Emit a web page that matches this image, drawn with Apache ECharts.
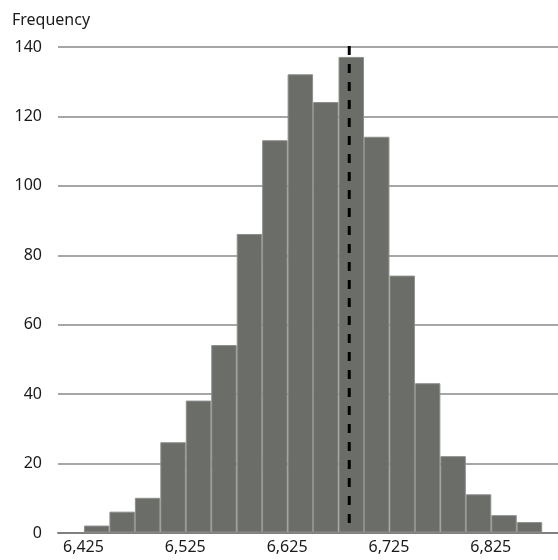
<!DOCTYPE html>
<html>
<head>
<meta charset="utf-8">
<script src="https://cdn.jsdelivr.net/npm/echarts@6/dist/echarts.min.js"></script>
<style>
html,body{margin:0;padding:0;background:#fff;}
#chart{width:558px;height:560px;}
</style>
</head>
<body>
<div id="chart"></div>
<script>
// Bin start values (bin width 25)
const binStarts = [6425,6450,6475,6500,6525,6550,6575,6600,6625,6650,6675,6700,6725,6750,6775,6800,6825,6850];
const binWidth = 25;
const frequencies = [2,6,10,26,38,54,86,113,132,124,137,114,74,43,22,11,5,3];
const xTickLabels = [6425,6525,6625,6725,6825];
const meanValue = [6686];
const yTicks = [0,20,40,60,80,100,120,140];

const barData = binStarts.map((s, i) => [s, s + binWidth, frequencies[i]]);

const chart = echarts.init(document.getElementById('chart'));
const fontFamily = '"Noto Sans", "Open Sans", sans-serif';
chart.setOption({
  animation: false,
  backgroundColor: '#ffffff',
  title: {
    text: 'Frequency',
    left: 12, top: 12, padding: 0,
    textStyle: {fontSize: 16, fontWeight: 'normal', color: '#1a1a1a', fontFamily: fontFamily}
  },
  grid: {left: 58, right: 0, top: 47, bottom: 27},
  xAxis: {
    type: 'value',
    min: 6400, max: 6891, interval: 25,
    axisLine: {show: true, lineStyle: {color: '#7f7f7f', width: 2}},
    axisTick: {show: false},
    splitLine: {show: false},
    axisLabel: {
      showMaxLabel: false, showMinLabel: true,
      fontSize: 16, color: '#1a1a1a', fontFamily: fontFamily, margin: 6,
      formatter: function (v) {
        return xTickLabels.indexOf(v) >= 0 ? v.toLocaleString('en-US') : '';
      }
    }
  },
  yAxis: {
    type: 'value',
    min: yTicks[0], max: yTicks[yTicks.length - 1], interval: 20,
    axisLine: {show: false},
    axisTick: {show: false},
    splitLine: {show: true, lineStyle: {color: '#a6a6a6', width: 2}},
    axisLabel: {fontSize: 16, color: '#1a1a1a', fontFamily: fontFamily, margin: 16}
  },
  series: [
    {
      type: 'custom',
      data: barData,
      encode: {x: [0, 1], y: 2},
      renderItem: function (params, api) {
        const p0 = api.coord([api.value(0), 0]);
        const p1 = api.coord([api.value(1), api.value(2)]);
        return {
          type: 'rect',
          shape: {x: p0[0] + 1, y: p1[1], width: p1[0] - p0[0] - 1, height: p0[1] - p1[1] - 1},
          style: {fill: '#6b6d69', stroke: '#8e8f8c', lineWidth: 1}
        };
      },
      z: 2
    },
    {
      type: 'line',
      data: [[meanValue[0], 140.3], [meanValue[0], 2.3]],
      symbol: 'none',
      lineStyle: {color: '#000000', width: 3, type: [9, 9]},
      z: 5
    }
  ]
});
</script>
</body>
</html>
